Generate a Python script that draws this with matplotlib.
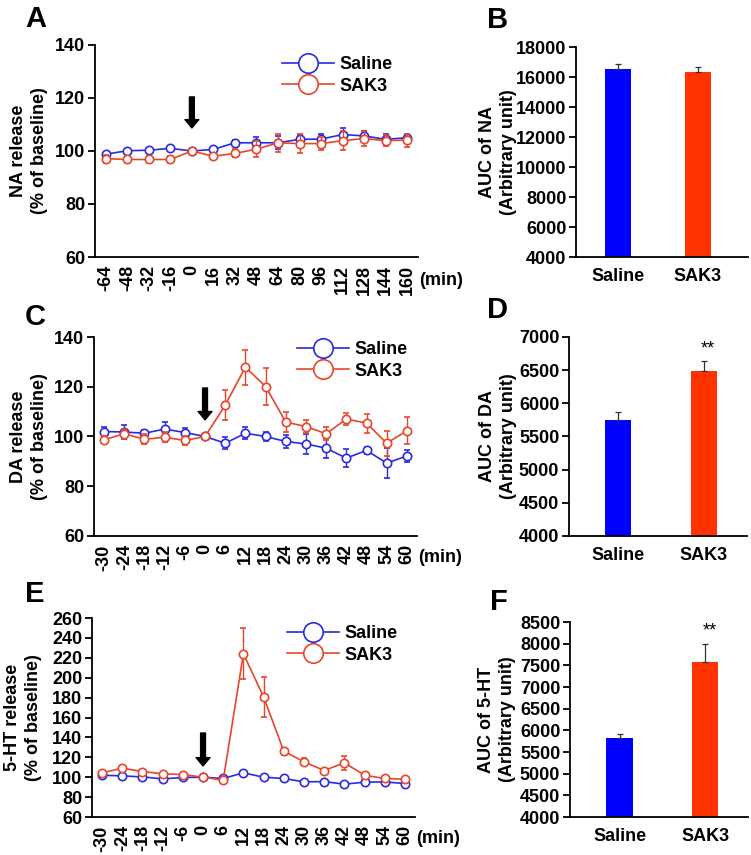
import matplotlib
matplotlib.use("Agg")
import matplotlib.pyplot as plt
from matplotlib.lines import Line2D
from matplotlib.transforms import blended_transform_factory

plt.rcParams['font.family'] = ['Liberation Sans', 'DejaVu Sans']
plt.rcParams['font.weight'] = 'bold'

# ---------------- data ----------------
time_na = ["-64", "-48", "-32", "-16", "0", "16", "32", "48", "64", "80", "96", "112", "128", "144", "160"]
na_saline = [98.8, 100.1, 100.3, 101.0, 100.0, 100.6, 103.1, 103.1, 103.1, 104.4, 104.5, 106.2, 105.7, 104.4, 105.0]
na_saline_err = [1.0, 0.8, 1.0, 1.0, 0.0, 0.8, 1.0, 2.0, 2.5, 1.5, 2.0, 2.5, 2.0, 2.0, 1.5]
na_sak3 = [97.1, 96.8, 96.8, 96.8, 100.0, 98.0, 99.1, 100.7, 103.1, 102.8, 102.8, 103.9, 104.7, 103.9, 104.1]
na_sak3_err = [1.5, 1.5, 1.5, 1.5, 0.0, 1.0, 1.5, 3.0, 3.5, 3.5, 2.5, 3.5, 3.0, 2.0, 2.5]

time_da = ["-30", "-24", "-18", "-12", "-6", "0", "6", "12", "18", "24", "30", "36", "42", "48", "54", "60"]
da_saline = [102.0, 101.8, 101.3, 103.0, 101.6, 100.0, 97.3, 101.3, 100.0, 98.0, 97.0, 95.3, 91.3, 94.4, 89.3, 92.2]
da_saline_err = [2.0, 3.0, 1.5, 3.0, 2.0, 0.0, 2.5, 2.5, 2.0, 2.5, 4.0, 4.0, 3.5, 1.5, 6.0, 2.5]
da_sak3 = [98.7, 101.1, 98.9, 99.7, 98.4, 100.0, 112.6, 127.9, 120.1, 105.8, 104.0, 101.1, 107.0, 105.4, 97.3, 102.3]
da_sak3_err = [1.5, 2.0, 2.0, 2.0, 2.0, 0.0, 6.0, 7.0, 7.3, 4.0, 2.5, 2.7, 2.5, 3.8, 5.0, 5.4]

time_5ht = ["-30", "-24", "-18", "-12", "-6", "0", "6", "12", "18", "24", "30", "36", "42", "48", "54", "60"]
ht_saline = [102.0, 101.3, 100.3, 98.3, 99.7, 100.0, 98.7, 104.4, 100.0, 98.7, 95.3, 95.6, 93.0, 95.0, 95.3, 93.6]
ht_saline_err = [1.5, 1.5, 1.0, 1.5, 1.0, 0.0, 1.5, 1.5, 1.0, 1.0, 1.5, 1.5, 1.0, 1.5, 3.0, 1.5]
ht_sak3 = [104.4, 109.1, 105.7, 103.4, 102.7, 100.0, 97.0, 224.0, 180.7, 126.2, 115.5, 106.7, 114.5, 102.0, 98.7, 98.0]
ht_sak3_err = [2.0, 2.0, 2.0, 1.5, 1.5, 0.0, 1.5, 25.7, 20.5, 3.5, 3.5, 2.0, 7.0, 2.0, 2.0, 2.0]

groups = ["Saline", "SAK3"]
auc_na = [16560, 16300]
auc_na_err = [290, 380]
auc_da = [5752, 6482]
auc_da_err = [120, 150]
auc_5ht = [5820, 7580]
auc_5ht_err = [100, 410]

# ---------------- style ----------------
BLUE_L = "#2A2AE0"
RED_L = "#E8452A"
BLUE_B = "#0000FF"
RED_B = "#FF3300"
FS = 13

W, H = 751, 855
fig = plt.figure(figsize=(W / 100, H / 100), dpi=100)


def add_axes(left, right, top, bottom):
    return fig.add_axes([left / W, 1 - bottom / H, (right - left) / W, (bottom - top) / H])


def style(ax):
    for s in ["top", "right"]:
        ax.spines[s].set_visible(False)
    for s in ["left", "bottom"]:
        ax.spines[s].set_linewidth(1.3)
    ax.tick_params(axis="y", direction="out", length=5, width=1.3, labelsize=FS, pad=2)
    ax.tick_params(axis="x", length=0, labelsize=FS, pad=6)
    for lab in ax.get_xticklabels() + ax.get_yticklabels():
        lab.set_fontweight("bold")


def place_ylabel(ax, text, px_right):
    # px_right: pixel x of the label's right edge
    ax.set_ylabel(text, fontsize=FS, fontweight="bold", linespacing=1.3)
    ax.yaxis.set_label_coords(px_right / W, 0.5,
                              transform=blended_transform_factory(fig.transFigure, ax.transAxes))


def line_panel(ax, tlabels, sal, sal_e, sak, sak_e, ylim, yticks, ylabel, arrow, leg_xy, ylab_px):
    x = list(range(len(tlabels)))
    ax.errorbar(x, sal, yerr=sal_e, color=BLUE_L, lw=1.2, marker="o", ms=6, mfc="white",
                mec=BLUE_L, mew=1.2, capsize=2, elinewidth=1, capthick=1, zorder=3)
    ax.errorbar(x, sak, yerr=sak_e, color=RED_L, lw=1.2, marker="o", ms=6, mfc="white",
                mec=RED_L, mew=1.2, capsize=2, elinewidth=1, capthick=1, zorder=4)
    ax.set_xlim(-0.5, len(tlabels) - 0.5)
    ax.set_ylim(*ylim)
    ax.set_yticks(yticks)
    ax.set_xticks(x)
    ax.set_xticklabels(tlabels, rotation=90, fontweight="bold")
    place_ylabel(ax, ylabel, ylab_px)
    style(ax)
    ax.text(1.002, -0.11, "(min)", transform=ax.transAxes, fontsize=FS, fontweight="bold",
            ha="left", va="center")
    ax.annotate("", xy=(arrow[0], arrow[2]), xytext=(arrow[0], arrow[1]),
                arrowprops=dict(facecolor="black", edgecolor="black", width=3.5,
                                headwidth=10, headlength=6))
    handles = [Line2D([0], [0], color=BLUE_L, lw=1.2, marker="o", ms=14, mfc="white", mec=BLUE_L, mew=1.2),
               Line2D([0], [0], color=RED_L, lw=1.2, marker="o", ms=14, mfc="white", mec=RED_L, mew=1.2)]
    fig.legend(handles, groups, loc="upper left",
               bbox_to_anchor=(leg_xy[0] / W, 1 - leg_xy[1] / H),
               frameon=False, handlelength=2.9, handletextpad=0.3, labelspacing=0.25,
               borderpad=0, borderaxespad=0, prop=dict(size=FS, weight="bold"))


def bar_panel(ax, vals, errs, xlim, width, ylim, yticks, ylabel, ylab_px, stars=None):
    x = [0, 1]
    ax.bar(x, vals, width=width, color=[BLUE_B, RED_B], zorder=2)
    ax.errorbar(x, vals, yerr=[[0, 0], errs], fmt="none", ecolor="#333333", elinewidth=0.9,
                capsize=2.5, capthick=0.9, zorder=3)
    ax.set_xlim(*xlim)
    ax.set_ylim(*ylim)
    ax.set_yticks(yticks)
    ax.set_xticks(x)
    ax.set_xticklabels(groups, fontweight="bold")
    place_ylabel(ax, ylabel, ylab_px)
    style(ax)
    ax.tick_params(axis="x", pad=8)
    if stars is not None:
        ax.text(1.05, stars, "**", ha="center", va="center", fontsize=13, fontweight="normal")


# ---- A ----
axA = add_axes(95, 418, 45, 257)
line_panel(axA, time_na, na_saline, na_saline_err, na_sak3, na_sak3_err,
           (60, 140), [60, 80, 100, 120, 140], "NA release\n(% of baseline)",
           (4, 120.4, 108.7), (282, 56), 48)
# ---- C ----
axC = add_axes(94, 417, 337, 536)
line_panel(axC, time_da, da_saline, da_saline_err, da_sak3, da_sak3_err,
           (60, 140), [60, 80, 100, 120, 140], "DA release\n(% of baseline)",
           (5, 119.5, 106.7), (297, 341), 48)
# ---- E ----
axE = add_axes(92, 415, 618, 817)
line_panel(axE, time_5ht, ht_saline, ht_saline_err, ht_sak3, ht_sak3_err,
           (60, 260), list(range(60, 261, 20)), "5-HT release\n(% of baseline)",
           (5, 144.4, 111.3), (287, 625), 42)

# ---- B ----
axB = add_axes(576, 748, 47, 257)
bar_panel(axB, auc_na, auc_na_err, (-0.525, 1.625), 0.325, (4000, 18000),
          list(range(4000, 18001, 2000)), "AUC of NA\n(Arbitrary unit)", 517)
# ---- D ----
axD = add_axes(569, 747, 337, 536)
bar_panel(axD, auc_da, auc_da_err, (-0.57, 1.5), 0.30, (4000, 7000),
          list(range(4000, 7001, 500)), "AUC of DA\n(Arbitrary unit)", 517, stars=6820)
# ---- F ----
axF = add_axes(570, 748, 622, 817)
bar_panel(axF, auc_5ht, auc_5ht_err, (-0.58, 1.50), 0.31, (4000, 8500),
          list(range(4000, 8501, 500)), "AUC of 5-HT\n(Arbitrary unit)", 516, stars=8300)

# panel letters
for lab, (px, py) in {"A": (25, 27), "B": (487, 28), "C": (25, 325), "D": (487, 318),
                      "E": (25, 602), "F": (490, 610)}.items():
    fig.text(px / W, 1 - py / H, lab, fontsize=21, fontweight="bold", ha="left", va="baseline")

fig.savefig("out.png", dpi=100)
